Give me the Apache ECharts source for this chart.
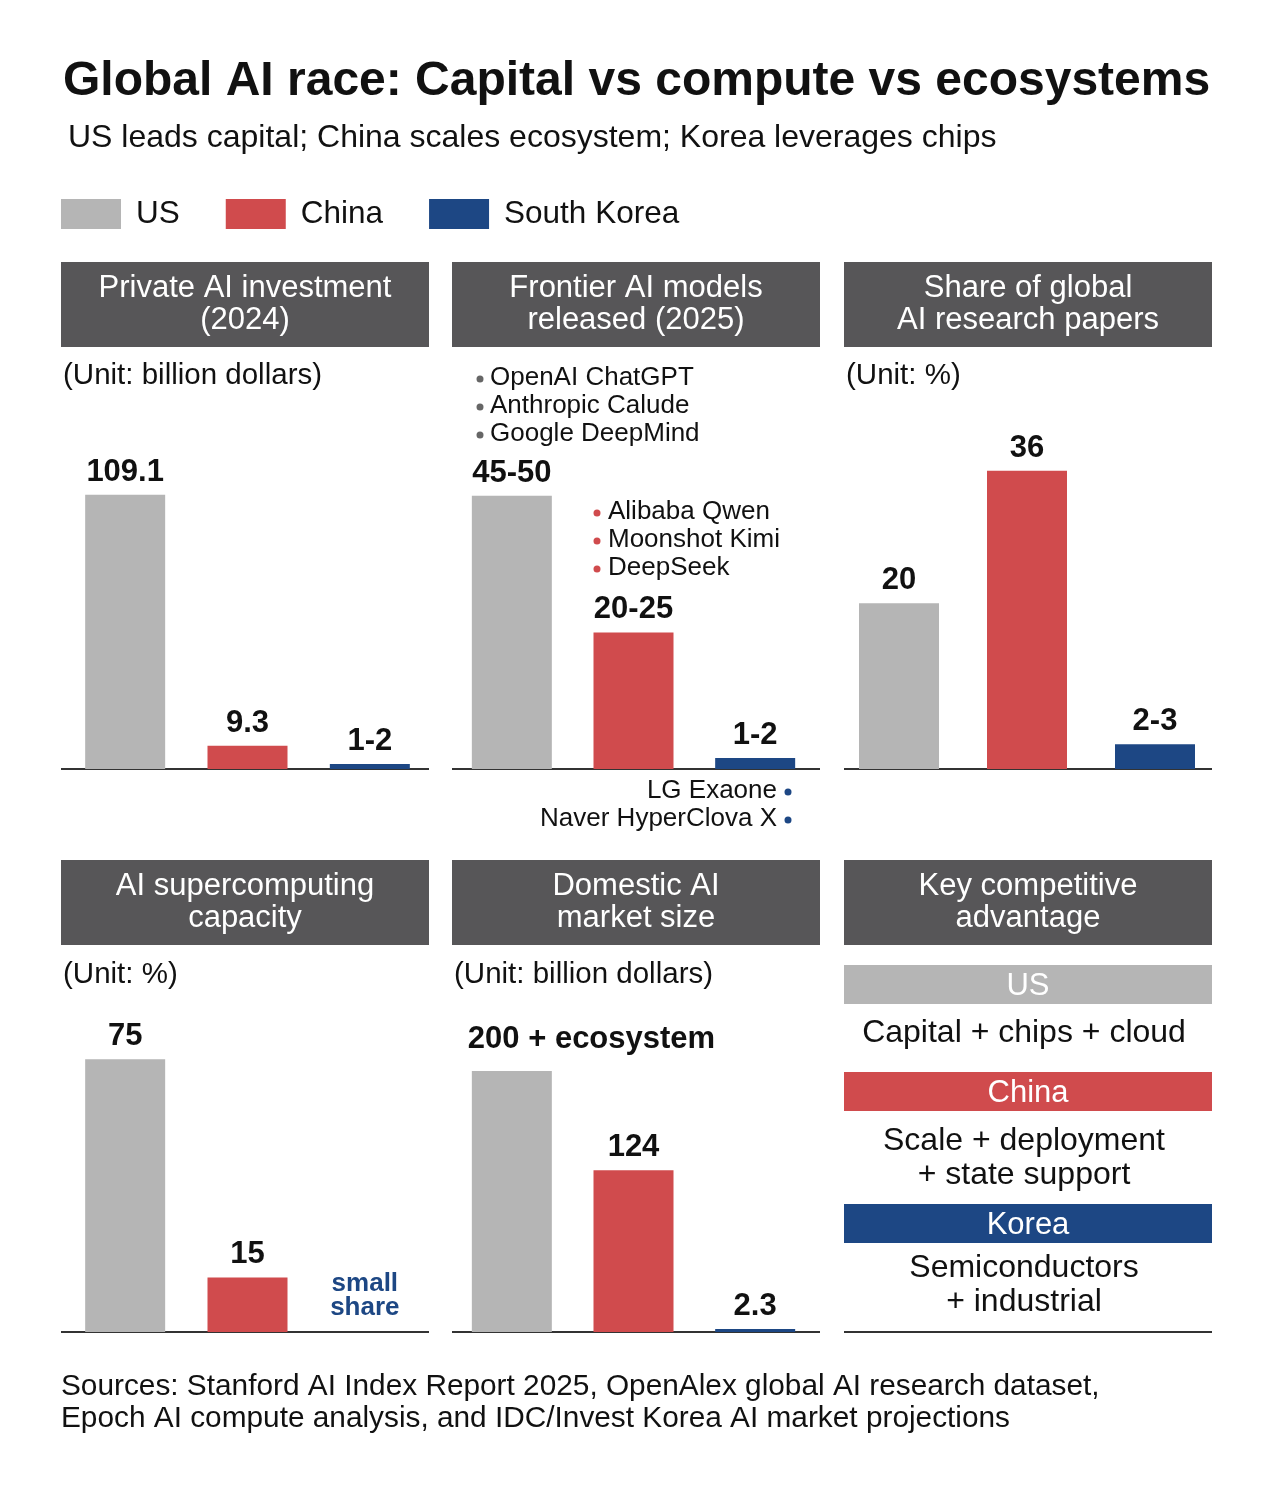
<!DOCTYPE html>
<html><head><meta charset="utf-8">
<script src="https://cdn.jsdelivr.net/npm/echarts@6/dist/echarts.min.js"></script>
<style>html,body{margin:0;padding:0;background:#fff}#c{width:1280px;height:1497px}</style>
</head><body><div id="c"></div>
<script>
const categories = ['US', 'China', 'South Korea'];
const colors = ['#b5b5b5', '#d04b4d', '#1d4784'];
const investment = [109.1, 9.3, 2];
const investmentLabels = ['109.1', '9.3', '1-2'];
const models = [50, 25, 2];
const modelsLabels = ['45-50', '20-25', '1-2'];
const papers = [20, 36, 3];
const papersLabels = ['20', '36', '2-3'];
const compute = [75, 15, 0];
const computeLabels = ['75', '15', 'small\nshare'];
const market = [200, 124, 2.3];
const marketLabels = ['200 + ecosystem', '124', '2.3'];
const usModels = ['OpenAI ChatGPT', 'Anthropic Calude', 'Google DeepMind'];
const chinaModels = ['Alibaba Qwen', 'Moonshot Kimi', 'DeepSeek'];
const koreaModels = ['LG Exaone', 'Naver HyperClova X'];
const headers = ['Private AI investment\n(2024)', 'Frontier AI models\nreleased (2025)', 'Share of global\nAI research papers',
  'AI supercomputing\ncapacity', 'Domestic AI\nmarket size', 'Key competitive\nadvantage'];
const units = ['(Unit: billion dollars)', null, '(Unit: %)', '(Unit: %)', '(Unit: billion dollars)', null];
const advantages = [['US', 'Capital + chips + cloud'], ['China', 'Scale + deployment\n+ state support'], ['Korea', 'Semiconductors\n+ industrial']];

const FONT = "'Liberation Sans', Arial, Helvetica, sans-serif";
const panels = [
  {vals: investment, labels: investmentLabels, grid: {left: 64, width: 367, top: 392, height: 377}, max: 150},
  {vals: models, labels: modelsLabels, grid: {left: 451, width: 365, top: 392, height: 377}, max: 69},
  {vals: papers, labels: papersLabels, grid: {left: 835, width: 384, top: 392, height: 377}, max: 45.5},
  {vals: compute, labels: computeLabels, grid: {left: 64, width: 367, top: 990, height: 342}, max: 94},
  {vals: market, labels: marketLabels, grid: {left: 451, width: 365, top: 990, height: 342}, max: 262}
];
const colX = [61, 452, 844];
const colW = 368;

const grids = [], xAxes = [], yAxes = [], series = [];
panels.forEach((p, i) => {
  grids.push(Object.assign({containLabel: false}, p.grid));
  xAxes.push({type: 'category', gridIndex: i, data: categories, axisLine: {show: false}, axisTick: {show: false}, axisLabel: {show: false}});
  yAxes.push({type: 'value', gridIndex: i, min: 0, max: p.max, show: false, splitLine: {show: false}});
  categories.forEach((c, j) => {
    series.push({
      type: 'bar', name: c, xAxisIndex: i, yAxisIndex: i, barWidth: 80, barGap: '-100%',
      itemStyle: {color: colors[j]},
      label: {show: true, position: 'top', distance: 7, color: '#111', fontFamily: FONT, fontWeight: 'bold', fontSize: 31},
      data: p.vals.map((v, k) => {
        if (k !== j) return '-';
        const item = {value: v, label: {formatter: p.labels[k]}};
        if (i === 4 && k === 0) { item.label.align = 'left'; item.label.offset = [-44, -2]; item.label.distance = 14; }
        if (i === 3 && k === 2) { Object.assign(item.label, {color: colors[2], fontSize: 26, lineHeight: 24, distance: 12, offset: [-5, 0]}); }
        return item;
      })
    });
  });
});

const graphic = [];
function txt(x, y, text, opts) {
  graphic.push({type: 'text', silent: true, style: Object.assign({x, y, text, fill: '#111', font: '29px ' + FONT, textAlign: 'left', textVerticalAlign: 'middle'}, opts || {})});
}
// title & subtitle
txt(63, 82, 'Global AI race: Capital vs compute vs ecosystems', {font: 'bold 48px ' + FONT});
txt(68, 138, 'US leads capital; China scales ecosystem; Korea leverages chips', {font: '32px ' + FONT});
// headers
headers.forEach((h, i) => {
  const x = colX[i % 3], y = i < 3 ? 262 : 860;
  graphic.push({type: 'rect', silent: true, shape: {x, y, width: colW, height: 85}, style: {fill: '#575658'}});
  txt(x + colW / 2, y + 42, h, {fill: '#fff', font: '31px ' + FONT, textAlign: 'center', lineHeight: 32});
  if (units[i]) txt(x + 2, i < 3 ? 376 : 975, units[i], {font: '29.5px ' + FONT});
});
// baselines
[[61, 769], [452, 769], [844, 769], [61, 1332], [452, 1332], [844, 1332]].forEach(([x, y]) => {
  graphic.push({type: 'line', silent: true, shape: {x1: x, y1: y, x2: x + colW, y2: y}, style: {stroke: '#333', lineWidth: 2}});
});
// model lists
usModels.forEach((m, k) => {
  graphic.push({type: 'circle', silent: true, shape: {cx: 480, cy: 379 + k * 28, r: 3.5}, style: {fill: '#666'}});
  txt(490, 378 + k * 28, m, {font: '26px ' + FONT});
});
chinaModels.forEach((m, k) => {
  graphic.push({type: 'circle', silent: true, shape: {cx: 597, cy: 513 + k * 28, r: 3.5}, style: {fill: colors[1]}});
  txt(608, 512 + k * 28, m, {font: '26px ' + FONT});
});
koreaModels.forEach((m, k) => {
  graphic.push({type: 'circle', silent: true, shape: {cx: 788, cy: 792 + k * 28, r: 3.5}, style: {fill: colors[2]}});
  txt(777, 791 + k * 28, m, {font: '26px ' + FONT, textAlign: 'right'});
});
// key advantage panel
const advY = [[965, 1033], [1072, 1158], [1204, 1285]];
advantages.forEach((a, k) => {
  graphic.push({type: 'rect', silent: true, shape: {x: 844, y: advY[k][0], width: colW, height: 39}, style: {fill: colors[k]}});
  txt(844 + colW / 2, advY[k][0] + 21, a[0], {fill: '#fff', font: '31px ' + FONT, textAlign: 'center'});
  txt(1024, advY[k][1], a[1], {font: '32px ' + FONT, textAlign: 'center', lineHeight: 34});
});
// sources
txt(61, 1387, 'Sources: Stanford AI Index Report 2025, OpenAlex global AI research dataset,', {font: '29.8px ' + FONT});
txt(61, 1419, 'Epoch AI compute analysis, and IDC/Invest Korea AI market projections', {font: '29.8px ' + FONT});

const chart = echarts.init(document.getElementById('c'), null, {renderer: 'canvas'});
chart.setOption({
  backgroundColor: '#fff',
  animation: false,
  legend: {
    left: 61, top: 198, padding: 0, itemWidth: 60, itemHeight: 30, itemGap: 46, icon: 'rect',
    data: categories,
    textStyle: {fontFamily: FONT, fontSize: 31.5, color: '#111', padding: [0, 0, 0, 10]}
  },
  grid: grids, xAxis: xAxes, yAxis: yAxes, series, graphic
});
</script></body></html>
